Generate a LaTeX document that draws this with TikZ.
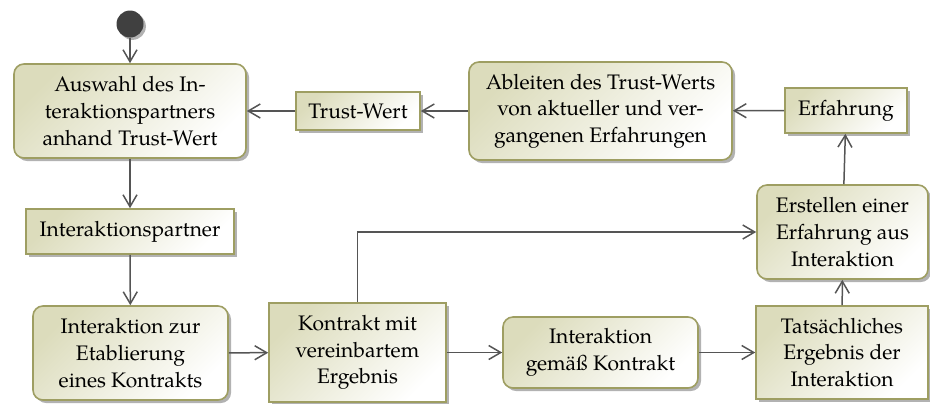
\documentclass[tikz,border=0pt]{standalone}
\usepackage{fontspec}
\setmainfont{texgyrepagella}[Extension=.otf,UprightFont=*-regular,BoldFont=*-bold,ItalicFont=*-italic,BoldItalicFont=*-bolditalic]
\usetikzlibrary{arrows.meta,shadows}
\definecolor{nodefill}{RGB}{220,220,188}
\definecolor{nodeborder}{RGB}{158,158,98}
\definecolor{linegray}{RGB}{85,85,85}
\definecolor{startgray}{RGB}{64,64,64}
\begin{document}
\begin{tikzpicture}[x=0.5pt,y=-0.5pt,
  base/.style={draw=nodeborder, line width=0.8pt, left color=nodefill, right color=white, shading angle=45,
    drop shadow={shadow xshift=1.5pt,shadow yshift=-1.5pt,fill=black!30,opacity=1},
    align=center, inner sep=0pt, font=\fontsize{10.5}{13.3}\selectfont},
  action/.style={base, rounded corners=5pt},
  obj/.style={base},
  flow/.style={draw=linegray, line width=0.75pt, -{Straight Barb[length=6pt,width=7pt]}}]
\useasboundingbox (0,0) rectangle (930,403);
\node[circle, fill=startgray, minimum size=13.5pt, inner sep=0pt,
  drop shadow={shadow xshift=1.2pt,shadow yshift=-1.2pt,fill=black!30,opacity=1}] (start) at (130,24) {};
\node[action, minimum width=116pt, minimum height=47pt] (auswahl) at (130,111) {Auswahl des In-\\teraktionspartners\\anhand Trust-Wert};
\node[obj, minimum width=62pt, minimum height=19pt] (trust) at (358,111) {Trust-Wert};
\node[action, minimum width=131.5pt, minimum height=49pt] (ableiten) at (600.5,111) {Ableiten des Trust-Werts\\von aktueller und ver-\\gangenen Erfahrungen};
\node[obj, minimum width=61pt, minimum height=22.5pt] (erfahrung) at (846,110.5) {Erfahrung};
\node[action, minimum width=85.5pt, minimum height=47pt] (erstellen) at (842.5,232) {Erstellen einer\\Erfahrung aus\\Interaktion};
\node[obj, minimum width=86pt, minimum height=46.5pt] (tats) at (842,352.5) {Tatsächliches\\Ergebnis der\\Interaktion};
\node[action, minimum width=97.5pt, minimum height=35.5pt] (gemaess) at (600.5,352.5) {Interaktion\\gemäß Kontrakt};
\node[obj, minimum width=88.5pt, minimum height=49.5pt] (kontrakt) at (357.5,352.5) {Kontrakt mit\\vereinbartem\\Ergebnis};
\node[action, minimum width=97.5pt, minimum height=47pt] (etab) at (130.5,353) {Interaktion zur\\Etablierung\\eines Kontrakts};
\node[obj, minimum width=104pt, minimum height=22.5pt] (partner) at (130,231.5) {Interaktionspartner};
\draw[flow] (start) -- (auswahl);
\draw[flow] (auswahl) -- (partner);
\draw[flow] (partner) -- (etab);
\draw[flow] (etab) -- (kontrakt);
\draw[flow] (kontrakt) -- (gemaess);
\draw[flow] (gemaess) -- (tats);
\draw[flow] (tats) -- (erstellen);
\draw[flow] (erstellen) -- (erfahrung);
\draw[flow] (erfahrung) -- (ableiten);
\draw[flow] (ableiten) -- (trust);
\draw[flow] (trust) -- (auswahl);
\draw[flow] (kontrakt.north) |- (erstellen.west);
\end{tikzpicture}
\end{document}
